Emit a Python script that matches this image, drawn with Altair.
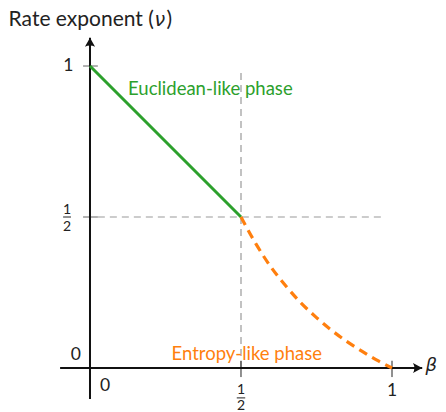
import altair as alt
import pandas as pd

# ---- data ----
beta_euclid = [0.0, 0.5]
nu_euclid = [1.0, 0.5]

beta_entropy = [0.5, 0.55, 0.6, 0.65, 0.7, 0.75, 0.8, 0.85, 0.9, 0.95, 1.0]
nu_entropy = [0.5, 0.41, 0.333, 0.27, 0.214, 0.167, 0.125, 0.088, 0.056, 0.026, 0.0]

# axis / guide geometry in data units
axis_x = {"b": [-0.099], "n": [0.0], "b2": [1.10], "n2": [0.0]}
axis_y = {"b": [0.0], "n": [-0.103], "b2": [0.0], "n2": [1.094]}
guides_b = [0.026, 0.5]
guides_n = [0.5, 0.0]
guides_b2 = [0.978, 0.5]
guides_n2 = [0.5, 0.977]

ytick_vals = [1.0, 0.5]
xtick_vals = [0.5, 1.0]

ylab_text = ["1", "0"]
ylab_b = [-0.072, -0.047]
ylab_n = [1.0, 0.042]
xlab_text = ["0", "1"]
xlab_b = [0.05, 1.0]
xlab_n = [-0.059, -0.077]

frac_text = ["1", "2", "1", "2"]
frac_b = [-0.076, -0.076, 0.5, 0.5]
frac_n = [0.524, 0.468, -0.072, -0.127]
fracbar_b = [-0.089, 0.486]
fracbar_b2 = [-0.063, 0.514]
fracbar_n = [0.5, -0.099]

title_text = "Rate exponent ("
title_nu = "ν"
title_close = ")"
phase_labels = ["Euclidean-like phase", "Entropy-like phase"]
phase_b = [0.126, 0.27]
phase_n = [0.925, 0.046]

XMIN, XMAX = -0.2715, 1.1523
YMIN, YMAX = -0.1457, 1.1921

xs = alt.Scale(domain=[XMIN, XMAX], nice=False, zero=False)
ys = alt.Scale(domain=[YMIN, YMAX], nice=False, zero=False)


def X(f="b"):
    return alt.X(f"{f}:Q", scale=xs, axis=None)


def Y(f="n"):
    return alt.Y(f"{f}:Q", scale=ys, axis=None)


FONT = "Lato"
INK = "#222222"

guides = alt.Chart(pd.DataFrame({"b": guides_b, "n": guides_n, "b2": guides_b2, "n2": guides_n2})).mark_rule(
    color="#9a9a9a", strokeWidth=1.2, strokeDash=[7, 5]
).encode(x=X(), y=Y(), x2="b2:Q", y2="n2:Q")

yt = pd.DataFrame({"n": ytick_vals, "b": [-0.023] * 2, "b2": [0.026] * 2})
yticks = alt.Chart(yt).mark_rule(color="#888888", strokeWidth=1.3).encode(x=X(), x2="b2:Q", y=Y())

xt = pd.DataFrame({"b": xtick_vals, "n": [0.024] * 2, "n2": [-0.03] * 2})
xticks = alt.Chart(xt).mark_rule(color=INK, strokeWidth=1).encode(x=X(), y=Y(), y2="n2:Q")

ax_df = pd.DataFrame({k: axis_x[k] + axis_y[k] for k in axis_x})
axes = alt.Chart(ax_df).mark_rule(color="#111111", strokeWidth=2).encode(x=X(), y=Y(), x2="b2:Q", y2="n2:Q")

arrow_path = "M0,0 L-1,-0.55 Q-0.7,0 -1,0.55 Z"
arr_df = pd.DataFrame({"b": [axis_x["b2"][0], 0.0], "n": [0.0, axis_y["n2"][0]], "ang": [0, 270]})
arrows = alt.Chart(arr_df).mark_point(
    shape=arrow_path, filled=True, color="#111111", size=340, opacity=1
).encode(x=X(), y=Y(), angle=alt.Angle("ang:Q", scale=None))

green = alt.Chart(pd.DataFrame({"b": beta_euclid, "n": nu_euclid})).mark_line(
    color="#2ca02c", strokeWidth=3
).encode(x=X(), y=Y())

orange = alt.Chart(pd.DataFrame({"b": beta_entropy, "n": nu_entropy})).mark_line(
    color="#ff7f0e", strokeWidth=3.2, strokeDash=[9, 6], interpolate="monotone"
).encode(x=X(), y=Y())

ticklabels = alt.Chart(pd.DataFrame({
    "b": ylab_b + xlab_b, "n": ylab_n + xlab_n, "t": ylab_text + xlab_text
})).mark_text(font=FONT, fontSize=17.5, color=INK, align="center", baseline="middle").encode(
    x=X(), y=Y(), text="t:N"
)

fracs = alt.Chart(pd.DataFrame({"b": frac_b, "n": frac_n, "t": frac_text})).mark_text(
    font=FONT, fontSize=14, color=INK, align="center", baseline="middle"
).encode(x=X(), y=Y(), text="t:N")

fracbars = alt.Chart(pd.DataFrame({"b": fracbar_b, "b2": fracbar_b2, "n": fracbar_n})).mark_rule(
    color=INK, strokeWidth=1
).encode(x=X(), x2="b2:Q", y=Y())

beta_lab = alt.Chart(pd.DataFrame({"b": [XMAX], "n": [0.006], "t": ["β"]})).mark_text(
    font="DejaVu Sans", fontStyle="italic", fontSize=18, color=INK, align="right", baseline="middle", dx=-1
).encode(x=X(), y=Y(), text="t:N")

TB = XMIN + 0.002
TN = 1.153
title1 = alt.Chart(pd.DataFrame({"b": [TB], "n": [TN], "t": [title_text]})).mark_text(
    font=FONT, fontSize=21, color=INK, align="left", baseline="middle"
).encode(x=X(), y=Y(), text="t:N")
title2 = alt.Chart(pd.DataFrame({"b": [TB], "n": [TN], "t": [title_nu]})).mark_text(
    font="DejaVu Sans", fontStyle="italic", fontSize=19, color=INK, align="left", baseline="middle", dx=146
).encode(x=X(), y=Y(), text="t:N")
title3 = alt.Chart(pd.DataFrame({"b": [TB], "n": [TN], "t": [title_close]})).mark_text(
    font=FONT, fontSize=21, color=INK, align="left", baseline="middle", dx=158
).encode(x=X(), y=Y(), text="t:N")

phase = alt.Chart(pd.DataFrame({"b": phase_b, "n": phase_n, "t": phase_labels, "c": ["#2ca02c", "#ff7f0e"]})).mark_text(
    font=FONT, fontSize=18.5, align="left", baseline="middle"
).encode(x=X(), y=Y(), text="t:N", color=alt.Color("c:N", scale=None))

chart = alt.layer(
    guides, yticks, xticks, axes, arrows, green, orange, ticklabels, fracs, fracbars, beta_lab,
    title1, title2, title3, phase
).properties(
    width=430, height=404, autosize=alt.AutoSizeParams(type="none"), padding=0
).configure_view(stroke=None)

chart.save("out.html", embed_options={"renderer": "svg", "actions": False})
